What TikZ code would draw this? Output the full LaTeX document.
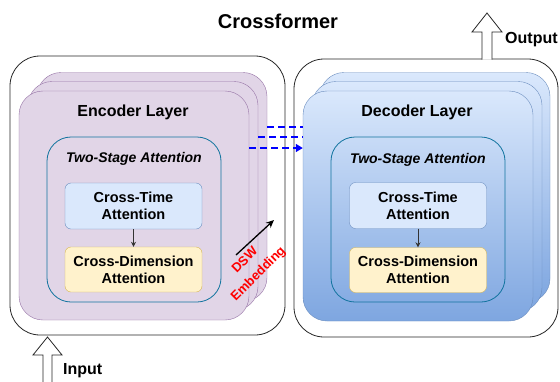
\documentclass[tikz,border=0pt]{standalone}
\usepackage{fontspec}
\setmainfont{Liberation Sans}
\usetikzlibrary{arrows.meta,calc}
\definecolor{purfill}{HTML}{E1D5E7}
\definecolor{purdraw}{HTML}{9673A6}
\definecolor{bluefill}{HTML}{DAE8FC}
\definecolor{bluedraw}{HTML}{6C8EBF}
\definecolor{bluebot}{HTML}{7EA6E0}
\definecolor{yelfill}{HTML}{FFF2CC}
\definecolor{yeldraw}{HTML}{D6B656}
\definecolor{tsadraw}{HTML}{10739E}
\begin{document}
\begin{tikzpicture}[x=1pt,y=-1pt,
  outerbox/.style={draw=black!85,line width=0.8pt,fill=white,rounded corners=30pt,inner sep=0pt},
  enclayer/.style={draw=purdraw,fill=purfill,rounded corners=24pt,minimum width=230pt,minimum height=229pt,inner sep=0pt},
  declayer/.style={draw=bluedraw,top color=bluefill,bottom color=bluebot,rounded corners=24pt,minimum width=230pt,minimum height=230pt,inner sep=0pt},
  tsabox/.style={draw=tsadraw,line width=0.8pt,rounded corners=24pt,minimum width=174pt,minimum height=165pt,inner sep=0pt},
  ctbox/.style={draw=bluedraw,fill=bluefill,rounded corners=6pt,minimum width=137pt,minimum height=46pt,inner sep=0pt,align=center,font=\fontsize{14.5}{17}\selectfont\bfseries},
  cdbox/.style={draw=yeldraw,fill=yelfill,rounded corners=6pt,minimum width=137pt,minimum height=45pt,inner sep=0pt,align=center,font=\fontsize{14.5}{17}\selectfont\bfseries},
  lbl/.style={font=\fontsize{16}{19}\selectfont\bfseries,inner sep=0pt},
  tsalbl/.style={font=\fontsize{14}{17}\selectfont\bfseries\itshape,inner sep=0pt},
  dsh/.style={draw=blue,line width=1.3pt,dash pattern=on 7pt off 4pt},
  hollow/.style={draw=black!85,fill=white,line width=0.8pt,line join=miter}
]
\useasboundingbox (0,0) rectangle (560,381);

% title
\node[font=\fontsize{20}{24}\selectfont\bfseries,inner sep=0pt] (title) at (278,21) {Crossformer};

% ---------- Encoder ----------
\node[outerbox,minimum width=275pt,minimum height=279pt] (encout) at (147.5,195.5) {};
\node[enclayer] (encback) at (152,187) {};
\node[enclayer] (encmid) at (143,196) {};
\node[enclayer] (encfront) at (134,205.5) {};
\node[lbl] (enclbl) at (133,112) {Encoder Layer};
\node[tsabox] (enctsa) at (134,219.5) {};
\node[tsalbl] (enctsalbl) at (134,159) {Two-Stage Attention};
\node[ctbox] (encct) at (133.5,206) {Cross-Time\\Attention};
\node[cdbox] (enccd) at (133.5,269.5) {Cross-Dimension\\Attention};
\draw[black!80,line width=0.8pt,-{Stealth[length=5pt,width=5pt]}] (encct.south) -- (enccd.north);

% ---------- Decoder ----------
\node[outerbox,minimum width=264pt,minimum height=278pt] (decout) at (426,198) {};
\node[declayer] (decback) at (435,187.5) {};
\node[declayer] (decmid) at (427,196.5) {};
\node[declayer] (decfront) at (418,206) {};
\node[lbl] (declbl) at (417,112) {Decoder Layer};
\node[tsabox] (dectsa) at (418,219.5) {};
\node[tsalbl] (dectsalbl) at (418,160) {Two-Stage Attention};
\node[ctbox] (decct) at (418,205.5) {Cross-Time\\Attention};
\node[cdbox] (deccd) at (418,270) {Cross-Dimension\\Attention};
\draw[black!80,line width=0.8pt,-{Stealth[length=5pt,width=5pt]}] (decct.south) -- (deccd.north);

% ---------- dashed connections ----------
\draw[dsh] (encback.east |- 0,127) -- (decfront.west |- 0,127);
\draw[dsh] (encmid.east |- 0,137) -- (decfront.west |- 0,137);
\draw[dsh,-{Triangle[length=7pt,width=8pt]}] (encfront.east |- 0,148) -- (decfront.west |- 0,148);

% ---------- DSW embedding ----------
\coordinate (dswA) at (236,255);
\coordinate (dswB) at (274,220);
\draw[black,line width=1.3pt,-{Stealth[length=8pt,width=7pt]}] (dswA) -- (dswB);
\node[text=red,font=\fontsize{13}{19}\selectfont\bfseries,align=center,rotate=45,inner sep=0pt] (dswlbl) at (252,267.5) {DSW\\Embedding};

% ---------- Input / Output arrows ----------
\draw[hollow] (43,382) -- (43,355) -- (33,355) -- (47.5,337) -- (62,355) -- (52,355) -- (52,382);
\coordinate (intip) at (47.5,337);
\node[lbl,anchor=west] (inlbl) at (63,371) {Input};

\draw[hollow] (482,59.5) -- (482,32) -- (472,32) -- (487,13) -- (502,32) -- (492,32) -- (492,59.5);
\node[lbl,anchor=west] (outlbl) at (505,40) {Output};
\end{tikzpicture}
\end{document}
